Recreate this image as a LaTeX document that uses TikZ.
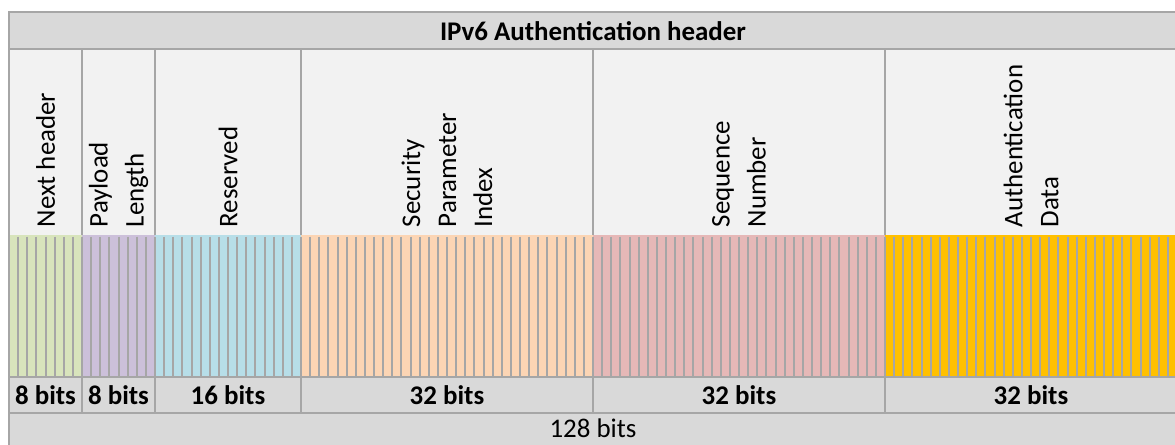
\documentclass[tikz,border=0pt]{standalone}
\usepackage{fontspec}
\setmainfont{Carlito}
\definecolor{bordergrey}{HTML}{A6A6A6}
\definecolor{titlefill}{HTML}{D9D9D9}
\definecolor{headfill}{HTML}{F2F2F2}
\definecolor{segA}{HTML}{D8E4BC}
\definecolor{segB}{HTML}{CCC0DA}
\definecolor{segC}{HTML}{B7DEE8}
\definecolor{segD}{HTML}{FCD5B4}
\definecolor{segE}{HTML}{E6B8B7}
\definecolor{segF}{HTML}{FFC000}
\begin{document}
\begin{tikzpicture}[x=0.75pt,y=-0.75pt,
  gridline/.style={draw=bordergrey,line width=1.5pt},
  stripe/.style={draw=bordergrey,line width=1.5pt},
  titletext/.style={inner sep=0pt,font=\bfseries\fontsize{20.2}{24}\selectfont},
  fieldtext/.style={rotate=90,anchor=west,inner sep=0pt,align=left,font=\fontsize{20.2}{27}\selectfont},
  bitstext/.style={inner sep=0pt,font=\bfseries\fontsize{20.2}{24}\selectfont},
  totaltext/.style={inner sep=0pt,font=\fontsize{20.2}{24}\selectfont}]
\useasboundingbox (0,0) rectangle (1175,444);
\clip (0,0) rectangle (1175,444);
% backgrounds
\fill[titlefill] (9,12) rectangle (1177,49);
\fill[headfill] (9,49) rectangle (1177,235);
\fill[titlefill] (9,377) rectangle (1177,460);
% coloured bit segments
\foreach \a/\b/\c in {9/82/segA,82/155/segB,155/301/segC,301/593/segD,593/885/segE,885/1177/segF}
  {\fill[\c] (\a,235) rectangle (\b,377);}
% bit stripes
\foreach \i in {0,...,128}
  {\draw[stripe] ({9+\i*9.125},236.5) -- ({9+\i*9.125},377);}
% horizontal grid lines
\draw[gridline] (9,12) -- (1177,12);
\draw[gridline] (9,49) -- (1177,49);
\draw[gridline] (9,377) -- (1177,377);
\draw[gridline] (9,413) -- (1177,413);
% vertical grid lines
\draw[gridline] (9,11.25) -- (9,460);
\foreach \x in {82,155,301,593,885,1177}
  {\draw[gridline] (\x,49) -- (\x,235);
   \draw[gridline] (\x,377) -- (\x,413);}
% title
\node[titletext] (title) at (593,31) {IPv6 Authentication header};
% field names
\node[fieldtext] (nexthdr) at (45.5,227.5) {Next header};
\node[fieldtext] (paylen) at (118.5,227.5) {Payload\\Length};
\node[fieldtext] (resv) at (228,227.5) {Reserved};
\node[fieldtext] (spi) at (447,227.5) {Security\\Parameter\\Index};
\node[fieldtext] (seqnum) at (739,227.5) {Sequence\\Number};
\node[fieldtext] (authdata) at (1031,227.5) {Authentication\\Data};
% bit counts
\node[bitstext] (bA) at (45.5,395) {8 bits};
\node[bitstext] (bB) at (118.5,395) {8 bits};
\node[bitstext] (bC) at (228,395) {16 bits};
\node[bitstext] (bD) at (447,395) {32 bits};
\node[bitstext] (bE) at (739,395) {32 bits};
\node[bitstext] (bF) at (1031,395) {32 bits};
\node[totaltext] (total) at (593,428.5) {128 bits};
\end{tikzpicture}
\end{document}
